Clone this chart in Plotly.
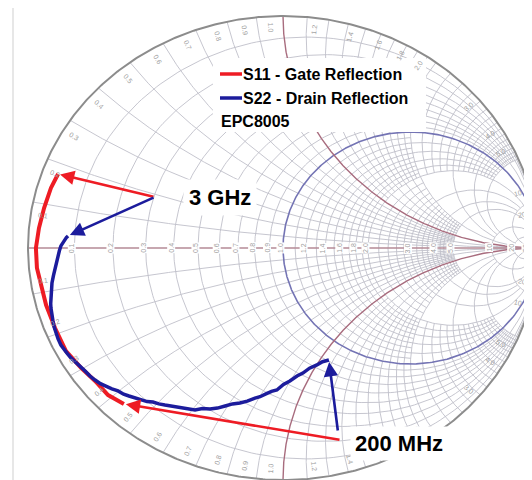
import numpy as np
import plotly.graph_objects as go

# ---------------- data (reflection coefficient, real / imag), 200 MHz -> 3 GHz ----------------
s11_re = [-0.624, -0.686, -0.737, -0.792, -0.851, -0.894, -0.929, -0.949, -0.965, -0.969,
          -0.957, -0.937, -0.910, -0.882]
s11_im = [-0.672, -0.634, -0.573, -0.517, -0.444, -0.345, -0.246, -0.159, -0.086, 0.000,
          0.086, 0.172, 0.259, 0.319]

s22_re = [0.180, 0.155, 0.133, 0.104, 0.078, 0.055, 0.027, 0.002, -0.024, -0.045, -0.067, -0.090,
          -0.110, -0.140, -0.169, -0.198, -0.227, -0.257, -0.286, -0.316, -0.345, -0.375, -0.404,
          -0.433, -0.463, -0.487, -0.510, -0.533, -0.557, -0.580, -0.604, -0.625, -0.647, -0.671,
          -0.694, -0.716, -0.737, -0.757, -0.776, -0.797, -0.816, -0.833, -0.847, -0.860, -0.871,
          -0.882, -0.890, -0.897, -0.902, -0.907, -0.910, -0.911, -0.910, -0.909, -0.906, -0.900,
          -0.894, -0.888, -0.882, -0.877, -0.871, -0.863, -0.855, -0.849, -0.843]
s22_im = [-0.483, -0.490, -0.504, -0.518, -0.539, -0.552, -0.573, -0.588, -0.612, -0.618, -0.629, -0.641,
          -0.647, -0.660, -0.668, -0.672, -0.681, -0.690, -0.694, -0.692, -0.698, -0.693, -0.690,
          -0.685, -0.677, -0.672, -0.664, -0.662, -0.655, -0.645, -0.638, -0.630, -0.616, -0.607,
          -0.595, -0.585, -0.569, -0.552, -0.530, -0.510, -0.487, -0.472, -0.453, -0.437, -0.418,
          -0.392, -0.366, -0.342, -0.315, -0.286, -0.259, -0.240, -0.216, -0.185, -0.151, -0.118,
          -0.086, -0.060, -0.034, -0.012, 0.009, 0.025, 0.039, 0.046, 0.052]

series_names = ["S11 - Gate Reflection", "S22 - Drain Reflection"]
series_colors = ["#ee1c24", "#1c1c9c"]
device_label = "EPC8005"
freq_labels = ["3 GHz", "200 MHz"]

# Smith chart grid values: (values, limit of the other coordinate)
r_tiers = [
    ([0.1], 50), ([0.3, 0.4, 0.6, 0.7, 0.8, 0.9], 5), ([0.2, 0.5], 50),
    ([1.2, 1.4, 1.6, 1.8], 5), ([1.1, 1.3, 1.5, 1.7, 1.9], 2), ([2.0], 20),
    ([2.2, 2.4, 2.6, 2.8, 3.2, 3.4, 3.6, 3.8, 4.2, 4.4, 4.6, 4.8], 2),
    ([3.0, 4.0], 10), ([5.0], 20), ([10.0], 50), ([20.0, 50.0], 1e6),
]
x_tiers = [
    ([0.1, 0.3, 0.4, 0.6, 0.7, 0.8, 0.9], 5), ([0.2, 0.5], 50),
    ([1.2, 1.4, 1.6, 1.8], 5), ([1.1, 1.3, 1.5, 1.7, 1.9], 2), ([2.0], 20),
    ([2.2, 2.4, 2.6, 2.8, 3.2, 3.4, 3.6, 3.8, 4.2, 4.4, 4.6, 4.8], 2),
    ([3.0, 4.0], 10), ([5.0], 20), ([10.0], 50), ([20.0, 50.0], 1e6),
]
axis_labels = [0.1, 0.2, 0.3, 0.4, 0.5, 0.6, 0.7, 0.8, 0.9, 1.0, 1.2, 1.4, 1.6, 1.8, 2.0, 3.0, 4.0, 5.0, 10, 20, 50]
rim_labels = [0.1, 0.2, 0.3, 0.4, 0.5, 0.6, 0.7, 0.8, 0.9, 1.0, 1.2, 1.4, 1.6, 1.8, 2.0, 3.0, 4.0, 5.0, 10, 20]

# ---------------- geometry helpers ----------------
W, H = 532, 480
ML, MR, MT, MB = 15, 0, 3, 3
CX, CY, RX, RY = 275.0, 240.0, 255.0, 232.0


def px(xp, yp):
    return (xp - CX) / RX, (CY - yp) / RY


def gamma(z):
    return (z - 1) / (z + 1)


def r_arc(r, xmax, n=260):
    t = np.linspace(-np.arctan(xmax), np.arctan(xmax), n)
    g = gamma(r + 1j * np.tan(t))
    return list(g.real) + [None], list(g.imag) + [None]


def x_arc(x, rmax, n=220):
    t = np.linspace(0, np.arctan(rmax), n)
    g = gamma(np.tan(t) + 1j * x)
    return list(g.real) + [None], list(g.imag) + [None]


gx, gy = [], []
for vals, lim in r_tiers:
    for r in vals:
        a, b = r_arc(r, lim)
        gx += a; gy += b
for vals, lim in x_tiers:
    for x in vals:
        for s in (1, -1):
            a, b = x_arc(s * x, lim)
            gx += a; gy += b

fig = go.Figure()
fig.add_trace(go.Scatter(x=gx, y=gy, mode="lines", line=dict(color="#c0c0ca", width=0.9),
                         hoverinfo="skip", showlegend=False))

# highlighted r = 1 circle and x = +/-1 arcs
a, b = r_arc(1.0, 1e6, 600)
fig.add_trace(go.Scatter(x=a, y=b, mode="lines", line=dict(color="#7474b4", width=1.6),
                         hoverinfo="skip", showlegend=False))
mx, my = [], []
for s in (1, -1):
    a, b = x_arc(s * 1.0, 1e6, 500)
    mx += a; my += b
fig.add_trace(go.Scatter(x=mx, y=my, mode="lines", line=dict(color="#a86c7e", width=1.4),
                         hoverinfo="skip", showlegend=False))
# real axis
fig.add_trace(go.Scatter(x=[-1, 1], y=[0, 0], mode="lines", line=dict(color="#b48a96", width=1.6),
                         hoverinfo="skip", showlegend=False))
# outer circle |G| = 1
th = np.linspace(0, 2 * np.pi, 721)
fig.add_trace(go.Scatter(x=np.cos(th), y=np.sin(th), mode="lines", line=dict(color="#8c8c8c", width=2),
                         hoverinfo="skip", showlegend=False))

# data curves
fig.add_trace(go.Scatter(x=s11_re, y=s11_im, mode="lines", name=series_names[0],
                         line=dict(color=series_colors[0], width=4), showlegend=False))
fig.add_trace(go.Scatter(x=s22_re, y=s22_im, mode="lines", name=series_names[1],
                         line=dict(color=series_colors[1], width=3.5), showlegend=False))

ann = []
# axis labels
for r in axis_labels:
    g = gamma(r)
    ann.append(dict(x=g - 0.012, y=0, xref="x", yref="y", text=f"{r:g}" if r >= 10 else f"{r:.1f}",
                    showarrow=False, textangle=-90, font=dict(size=7, color="#a0a0a0", family="Liberation Sans"),
                    bgcolor="white", borderpad=0))
# rim labels
for x in rim_labels:
    for s in (1, -1):
        ang = np.pi - 2 * np.arctan(s * x)
        ang2 = ang + s * np.deg2rad(3.0)
        rad = 0.95
        deg = np.rad2deg(ang2)
        ta = -deg
        while ta > 90:
            ta -= 180
        while ta < -90:
            ta += 180
        ann.append(dict(x=rad * np.cos(ang2), y=rad * np.sin(ang2), xref="x", yref="y",
                        text=f"{x:g}" if x >= 10 else f"{x:.1f}", showarrow=False, textangle=ta,
                        font=dict(size=7, color="#a0a0a0", family="Liberation Sans")))

# arrows (head at the curve ends)
tail_3g = px(147, 189)
tail_200_r = px(333, 432)
tail_200_b = px(330, 424)
for xs, ys, col, tail in [(s11_re, s11_im, series_colors[0], tail_3g),
                          (s22_re, s22_im, series_colors[1], tail_3g)]:
    ann.append(dict(x=xs[-1], y=ys[-1], ax=tail[0], ay=tail[1], xref="x", yref="y", axref="x", ayref="y",
                    text="", showarrow=True, arrowhead=2, arrowsize=1.1, arrowwidth=2.6, arrowcolor=col, standoff=2))
for xs, ys, col, tail in [(s11_re, s11_im, series_colors[0], tail_200_r),
                          (s22_re, s22_im, series_colors[1], tail_200_b)]:
    ann.append(dict(x=xs[0], y=ys[0], ax=tail[0], ay=tail[1], xref="x", yref="y", axref="x", ayref="y",
                    text="", showarrow=True, arrowhead=2, arrowsize=1.1, arrowwidth=2.6, arrowcolor=col, standoff=2))

# frequency labels
p = px(212, 189)
ann.append(dict(x=p[0], y=p[1], xref="x", yref="y", text="<b>" + freq_labels[0] + "</b>", showarrow=False,
                font=dict(size=22, color="black", family="Liberation Sans"), bgcolor="white", borderpad=5))
p = px(391, 435)
ann.append(dict(x=p[0], y=p[1], xref="x", yref="y", text="<b>" + freq_labels[1] + "</b>", showarrow=False,
                font=dict(size=22, color="black", family="Liberation Sans"), bgcolor="white", borderpad=4))

# legend box
shapes = []
b0 = px(205, 50); b1 = px(418, 124)
shapes.append(dict(type="rect", xref="x", yref="y", x0=b0[0], y0=b0[1], x1=b1[0], y1=b1[1],
                   fillcolor="white", line=dict(width=0), layer="above"))
for i, yy in enumerate([66, 90]):
    p0 = px(212, yy); p1 = px(234, yy)
    shapes.append(dict(type="line", xref="x", yref="y", x0=p0[0], y0=p0[1], x1=p1[0], y1=p1[1],
                       line=dict(color=series_colors[i], width=3.5), layer="above"))
    pt = px(233, yy)
    ann.append(dict(x=pt[0], y=pt[1], xref="x", yref="y", xanchor="left", text="<b>" + series_names[i] + "</b>",
                    showarrow=False, font=dict(size=16, color="black", family="Liberation Sans")))
pt = px(211, 113)
ann.append(dict(x=pt[0], y=pt[1], xref="x", yref="y", xanchor="left", text="<b>" + device_label + "</b>",
                showarrow=False, font=dict(size=16, color="black", family="Liberation Sans")))

# left frame line
shapes.append(dict(type="line", xref="paper", yref="paper", x0=-10 / 517, x1=-10 / 517, y0=-0.01, y1=1.01,
                   line=dict(color="#cfcfcf", width=1)))

x_lo = (ML - CX) / RX
x_hi = (W - MR - CX) / RX
y_hi = (CY - MT) / RY
y_lo = (CY - (H - MB)) / RY

fig.update_layout(
    width=W, height=H, margin=dict(l=ML, r=MR, t=MT, b=MB),
    paper_bgcolor="white", plot_bgcolor="white",
    xaxis=dict(range=[x_lo, x_hi], visible=False, fixedrange=True),
    yaxis=dict(range=[y_lo, y_hi], visible=False, fixedrange=True),
    annotations=ann, shapes=shapes, showlegend=False,
)
fig.write_html("out.html")
